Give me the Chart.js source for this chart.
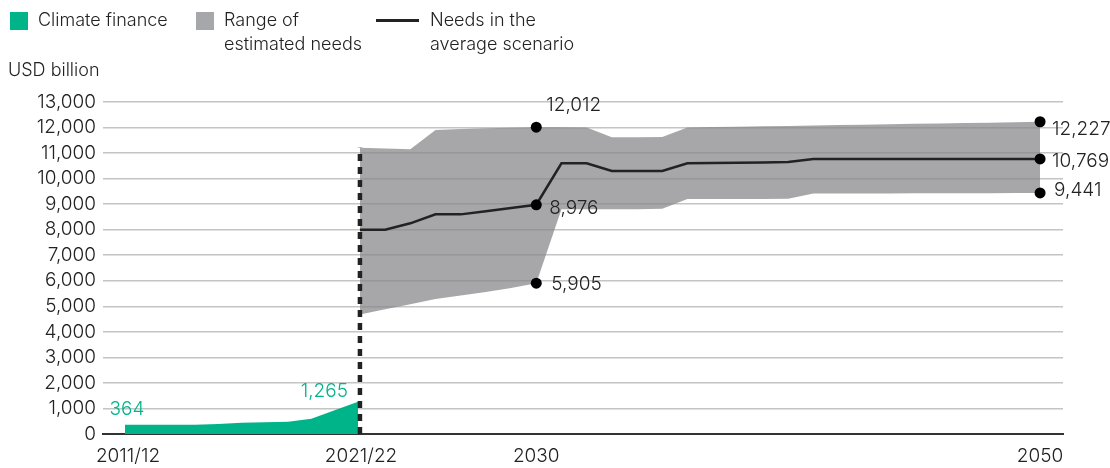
<!DOCTYPE html>
<html>
<head>
<meta charset="utf-8">
<script src="https://cdn.jsdelivr.net/npm/chart.js@4.4.1/dist/chart.umd.min.js"></script>
<style>
  html, body { margin: 0; padding: 0; background: #fff; }
  body {
    width: 1110px; height: 468px; position: relative; overflow: hidden;
    font-family: Inter, sans-serif; font-weight: 300; color: #222;
  }
  #wrap { position: absolute; left: 0; top: 0; width: 1110px; height: 468px; }
  .legend { position: absolute; left: 10px; top: 8px; display: flex; font-size: 18px; line-height: 24px; }
  .legend .item { display: flex; align-items: flex-start; }
  .legend .swatch { width: 18px; height: 18px; margin-top: 4px; margin-right: 10px; }
  .legend .dash { width: 43px; height: 3px; background: #222; margin-top: 11px; margin-right: 11px; }
  .unit { position: absolute; left: 8px; top: 58px; font-size: 18px; line-height: 24px; }
</style>
</head>
<body>
<div id="wrap"><canvas id="chart-needs"></canvas></div>

<div class="legend">
  <div class="item" style="width:186px"><span class="swatch" style="background:#00b48a"></span><span>Climate finance</span></div>
  <div class="item" style="width:180px"><span class="swatch" style="background:#a6a7aa"></span><span>Range of<br>estimated needs</span></div>
  <div class="item"><span class="dash"></span><span>Needs in the<br>average scenario</span></div>
</div>
<div class="unit">USD billion</div>

<script>
// Tracked climate finance, USD billion
const financePeriods = ['2011/12', '2012/13', '2013/14', '2014/15', '2015/16', '2016/17',
                        '2017/18', '2018/19', '2019/20', '2020/21', '2021/22'];
const financeValues = [364, 364, 364, 364, 392, 440, 462, 482, 600, 930, 1265];

// Estimated needs, USD billion
const needsYears = [2023, 2024, 2025, 2026, 2027, 2028, 2029, 2030, 2031, 2032, 2033, 2034, 2035, 2036,
                    2037, 2038, 2039, 2040, 2041, 2042, 2043, 2044, 2045, 2046, 2047, 2048, 2049, 2050];
const needsHigh = [11210, 11180, 11150, 11900, 11940, 11970, 11990, 12012, 12010, 12000, 11620, 11620, 11630, 12000,
                   12020, 12030, 12050, 12060, 12080, 12100, 12110, 12130, 12150, 12160, 12180, 12190, 12210, 12227];
const needsLow  = [4680, 4880, 5080, 5290, 5420, 5560, 5720, 5905, 8800, 8800, 8800, 8800, 8820, 9200,
                   9200, 9200, 9200, 9210, 9420, 9420, 9420, 9420, 9430, 9430, 9430, 9430, 9440, 9441];
const needsAvg  = [8000, 8000, 8250, 8600, 8600, 8720, 8850, 8976, 10600, 10600, 10300, 10300, 10300, 10600,
                   10610, 10620, 10630, 10650, 10769, 10769, 10769, 10769, 10769, 10769, 10769, 10769, 10769, 10769];

const yTicks = [0, 1000, 2000, 3000, 4000, 5000, 6000, 7000, 8000, 9000, 10000, 11000, 12000, 13000];
const yearTicks = [2030, 2050];
const periodTicks = ['2011/12', '2021/22'];
const markerYears = [2030, 2050];

const GREEN = '#00b48a';
const INK = '#222';
const FONT = "300 19px Inter, sans-serif";

const fmt = v => v.toLocaleString('en-US');

// label placement next to each end-point marker: [dx, dy]
const markerLabelOffsets = {
    2030: { high: [10, -22], avg: [13, 4], low: [15, 1] },
    2050: { high: [12, 8], avg: [12, 2], low: [14, -3] },
};

const financePoints = financeValues.map((v, i) => ({ x: i, y: v }));
const series = arr => arr.map((v, i) => ({ x: needsYears[i], y: v }));

const markerPoints = [];
markerYears.forEach(yr => {
    const i = needsYears.indexOf(yr);
    markerPoints.push({ x: yr, y: needsHigh[i], key: 'high' });
    markerPoints.push({ x: yr, y: needsAvg[i], key: 'avg' });
    markerPoints.push({ x: yr, y: needsLow[i], key: 'low' });
});

/* ── Labels: end-point values and x-axis periods ─────────────────────── */
const annotate = {
    id: 'annotate',
    afterDatasetsDraw(chart) {
        const { ctx, scales } = chart;
        const { x, xf, y } = scales;
        ctx.save();
        ctx.font = FONT;
        ctx.textBaseline = 'middle';

        ctx.fillStyle = INK;
        ctx.textAlign = 'left';
        markerPoints.forEach(p => {
            const [dx, dy] = markerLabelOffsets[p.x][p.key];
            ctx.fillText(fmt(p.y), x.getPixelForValue(p.x) + dx, y.getPixelForValue(p.y) + dy);
        });

        // first and latest finance values
        const last = financeValues.length - 1;
        ctx.fillStyle = GREEN;
        ctx.textAlign = 'center';
        ctx.fillText(fmt(financeValues[0]), xf.getPixelForValue(0) + 2, y.getPixelForValue(financeValues[0]) - 15);
        ctx.textAlign = 'right';
        ctx.fillText(fmt(financeValues[last]), xf.getPixelForValue(last) - 10, y.getPixelForValue(financeValues[last]) - 10);

        // x-axis labels from both time scales
        const ty = x.top + 22;
        ctx.fillStyle = INK;
        ctx.textAlign = 'center';
        periodTicks.forEach(p => {
            ctx.fillText(p, xf.getPixelForValue(financePeriods.indexOf(p)) + 3, ty);
        });
        yearTicks.forEach(yr => ctx.fillText(String(yr), x.getPixelForValue(yr), ty));
        ctx.restore();
    },
};

new Chart(document.getElementById('chart-needs'), {
    type: 'line',
    data: {
        datasets: [
            {
                label: 'markers',
                type: 'scatter',
                data: markerPoints,
                pointRadius: 5.5,
                pointBackgroundColor: '#000',
                pointBorderWidth: 0,
                order: 0,
            },
            {
                label: 'Needs in the average scenario',
                data: series(needsAvg),
                borderColor: INK,
                borderWidth: 2.5,
                pointRadius: 0,
                fill: false,
                order: 1,
            },
            {
                label: 'divider',
                data: [{ x: needsYears[0], y: 0 }, { x: needsYears[0], y: needsHigh[0] }],
                borderColor: INK,
                borderWidth: 4.5,
                borderDash: [7, 6],
                borderCapStyle: 'butt',
                pointRadius: 0,
                fill: false,
                order: 2,
            },
            {
                label: 'Climate finance',
                xAxisID: 'xf',
                data: financePoints,
                borderWidth: 0,
                backgroundColor: GREEN,
                pointRadius: 0,
                fill: 'origin',
                order: 3,
            },
            {
                label: 'low',
                data: series(needsLow),
                borderWidth: 0,
                pointRadius: 0,
                fill: false,
                order: 5,
            },
            {
                label: 'Range of estimated needs',
                data: series(needsHigh),
                borderWidth: 0,
                pointRadius: 0,
                backgroundColor: 'rgba(134, 135, 139, 0.73)',
                fill: '-1',
                order: 4,
            },
        ],
    },
    options: {
        responsive: true,
        maintainAspectRatio: false,
        animation: false,
        layout: { padding: { top: 102, right: 47, left: 0, bottom: 0 } },
        elements: { line: { tension: 0 } },
        scales: {
            x: {
                type: 'linear',
                min: 2012.8,
                max: 2050.91,
                afterFit: s => { s.height = 34; },
                grid: { display: false },
                border: { display: true, color: '#333', width: 2 },
                ticks: { display: false },
            },
            xf: {
                type: 'linear',
                display: false,
                min: -0.944,
                max: 40.26,
            },
            y: {
                min: 0,
                max: 13000,
                afterFit: s => { s.width = 103; },
                afterBuildTicks: s => { s.ticks = yTicks.map(v => ({ value: v })); },
                grid: { color: '#c4c4c4', lineWidth: 1.5, drawTicks: false },
                border: { display: false },
                ticks: {
                    autoSkip: false,
                    color: INK,
                    padding: 7,
                    font: { family: 'Inter, sans-serif', size: 19, weight: '300' },
                    callback: v => fmt(v),
                },
            },
        },
        plugins: {
            legend: { display: false },
            tooltip: { enabled: false },
        },
    },
    plugins: [annotate],
});
</script>
</body>
</html>
